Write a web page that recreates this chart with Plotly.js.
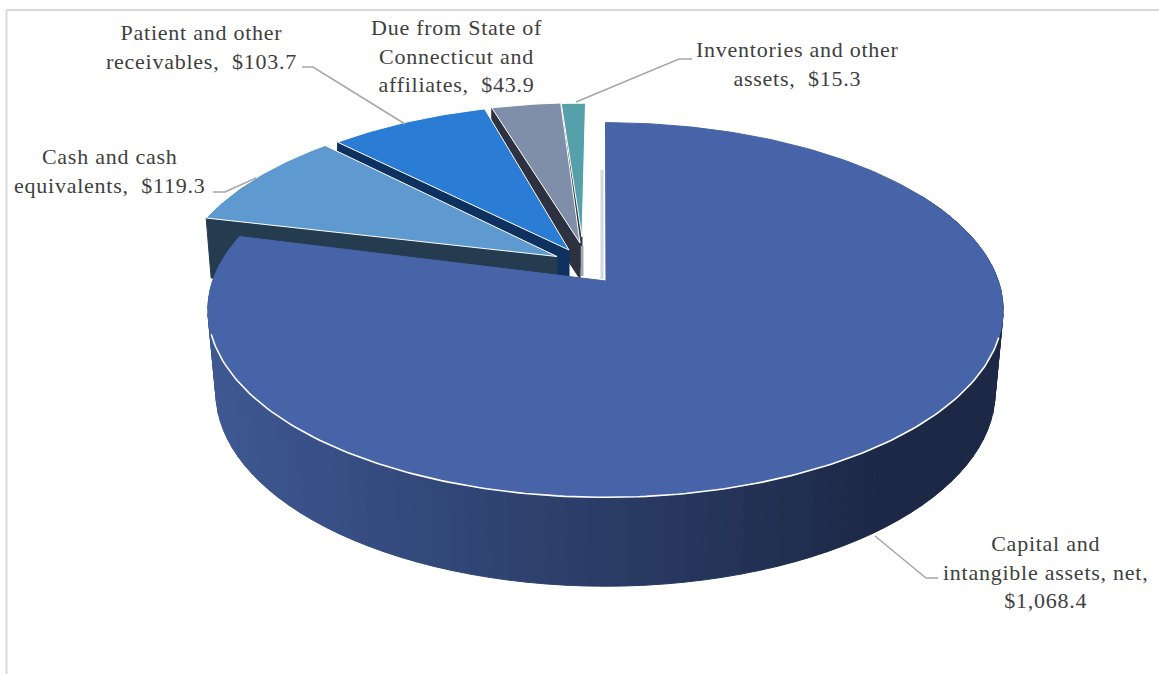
<!DOCTYPE html>
<html>
<head>
<meta charset="utf-8">
<script src="https://cdn.plot.ly/plotly-3.0.1.min.js"></script>
<style>html,body{margin:0;padding:0;background:#fff;overflow:hidden}#chart{width:1159px;height:674px}
.annotation-text{letter-spacing:.75px}</style>
</head>
<body>
<div id="chart"></div>
<script>
// ---- data ----
const categories = ["Capital and<br>intangible assets, net,", "Cash and cash<br>equivalents,", "Patient and other<br>receivables,", "Due from State of<br>Connecticut and<br>affiliates,", "Inventories and other<br>assets,"];
const values = [1068.4, 119.3, 103.7, 43.9, 15.3];
const valueBreaks = ["<br>", "\u00a0 ", "\u00a0 ", "\u00a0 ", "\u00a0 "];

// ---- styles ----
const topColors  = ["#4864a8", "#5e9ad0", "#2a7cd5", "#7f8fa9", "#56a0ab"];
const wallColors = [null, "#253b50", "#0e3160", "#2e3240", "#2f3f44"];
const fontFamily = "Liberation Serif, Times New Roman, serif";

// ---- geometry of the tilted disc ----
const R = 393, A = 183, K = 0.152;
const arcCentres = [[605.5, 281.5], [561, 261.6], [576, 259.5], [585, 261.5], [585.5, 262]];
const arcScale   = [1, 0.97, 0.98, 1, 1];
const apexes     = [[606, 281], [557, 256.5], [569, 250], [580, 243], [582, 237]];
const wallDepth  = [0, 60, 42, 36, 38];
const wallSlant  = [0, 5, 0, 0, 0];
const rad = d => d * Math.PI / 180;
function proj(deg, c, s) {
  const X = Math.sin(rad(deg)), Y = Math.cos(rad(deg)), w = 1 + K * Y;
  return [c[0] + s * R * X / w, c[1] - s * A * Y / w];
}
const lower = p => [605 + 0.98 * (p[0] - 605), 392 + 1.037 * (p[1] - 310)];

const total = values.reduce((a, b) => a + b, 0);
const starts = [], ends = [];
values.reduce((acc, v, i) => { starts[i] = acc / total * 360; ends[i] = (acc + v) / total * 360; return acc + v; }, 0);

function poly(pts, fill, line, lw) {
  const xs = pts.map(p => p[0]), ys = pts.map(p => p[1]);
  xs.push(xs[0]); ys.push(ys[0]);
  return {type: "scatter", mode: "lines", x: xs, y: ys, fill: "toself", fillcolor: fill,
          line: {color: line || fill, width: lw === undefined ? 1 : lw}, hoverinfo: "skip", showlegend: false};
}
function path(pts, color, width) {
  return {type: "scatter", mode: "lines", x: pts.map(p => p[0]), y: pts.map(p => p[1]),
          line: {color: color, width: width}, hoverinfo: "skip", showlegend: false};
}
function arc(a, b, c, s) {
  const out = [], n = Math.max(2, Math.ceil((b - a) / 1));
  for (let j = 0; j <= n; j++) out.push(proj(a + (b - a) * j / n, c, s));
  return out;
}
function mix(x) {
  const f = Math.min(1, Math.max(0, (x - 215) / (880 - 215)));
  const l = [62, 88, 146], r = [28, 40, 70];
  return "rgb(" + l.map((v, i) => Math.round(v + (r[i] - v) * f)).join(",") + ")";
}

const traces = [];
// small slices, back to front
for (let i = values.length - 1; i >= 1; i--) {
  const c = arcCentres[i], s = arcScale[i], ap = apexes[i], d = wallDepth[i];
  const P = proj(starts[i], c, s);
  traces.push(poly([P, ap, [ap[0], ap[1] + d], [P[0] + wallSlant[i], P[1] + d]], wallColors[i]));
  traces.push(poly([ap].concat(arc(starts[i], ends[i], c, s)), topColors[i], "#ffffff", 1));
  if (i === 4) traces.push(path([[582, 246], [582, 276]], "#a2a7b0", 3));
}
// faint edge beside the large slice
traces.push(path([[602, 170], [602, 279]], "#d3d7e0", 3));
// side wall of the large slice, one shaded strip at a time
const c0 = arcCentres[0], stripStep = 2.5;
for (let t = 60; t < ends[0]; t += stripStep) {
  const t2 = Math.min(t + stripStep, ends[0]);
  const a = proj(t, c0, 1), b = proj(t2, c0, 1);
  traces.push(poly([a, b, lower(b), lower(a)], mix((lower(a)[0] + lower(b)[0]) / 2)));
}
// top of the large slice
traces.push(poly([apexes[0]].concat(arc(starts[0], ends[0], c0, 1)), topColors[0], topColors[0], 1));
// white rim on the front edge
traces.push(path(arc(107, 254, c0, 1), "#ffffff", 1.6));

// leader lines
traces.push(path([[302, 67], [313, 67], [405, 124]], "#a6a6a6", 1.5));
traces.push(path([[213, 192], [225, 192], [256, 178]], "#a6a6a6", 1.5));
traces.push(path([[692, 59], [679, 59], [576, 102]], "#a6a6a6", 1.5));
traces.push(path([[875, 536], [926, 578], [938, 578]], "#a6a6a6", 1.5));

const labelPos = [[1045, 572], [109, 171], [201, 47], [456, 56], [797, 64]];
const money = v => "$" + v.toLocaleString("en-US", {minimumFractionDigits: 1, maximumFractionDigits: 1});
const annotations = categories.map((c, i) => ({
  text: c + valueBreaks[i] + money(values[i]),
  x: labelPos[i][0], y: labelPos[i][1], xref: "x", yref: "y",
  xanchor: "center", yanchor: "middle", align: "center", showarrow: false,
  font: {family: fontFamily, size: 22, color: "#404040"}
}));

const layout = {
  width: 1159, height: 674,
  margin: {l: 0, r: 0, t: 0, b: 0},
  paper_bgcolor: "#ffffff", plot_bgcolor: "#ffffff",
  showlegend: false,
  xaxis: {range: [0, 1159], visible: false, fixedrange: true},
  yaxis: {range: [674, 0], visible: false, fixedrange: true},
  annotations: annotations,
  shapes: [
    {type: "line", xref: "x", yref: "y", x0: 6.5, y0: 10, x1: 1159, y1: 10, line: {color: "#d9d9d9", width: 2}},
    {type: "line", xref: "x", yref: "y", x0: 6.5, y0: 10, x1: 6.5, y1: 674, line: {color: "#d9d9d9", width: 2}}
  ]
};
Plotly.newPlot("chart", traces, layout, {displayModeBar: false, staticPlot: true});
</script>
</body>
</html>
